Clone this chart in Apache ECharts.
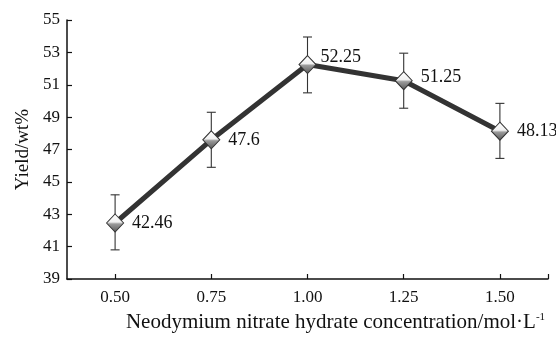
<!DOCTYPE html>
<html>
<head>
<meta charset="utf-8">
<script src="https://cdn.jsdelivr.net/npm/echarts@6/dist/echarts.min.js"></script>
<style>
  html, body { margin: 0; padding: 0; background: #fff; }
  #chart { width: 556px; height: 338px; }
</style>
</head>
<body>
<div id="chart"></div>
<script>
// concentration (mol/L) and yield (wt%)
var concentrations = [0.50, 0.75, 1.00, 1.25, 1.50]
var yields = [42.46, 47.6, 52.25, 51.25, 48.13]
// error bar ends
var errLow = [40.8, 45.9, 50.5, 49.55, 46.45]
var errHigh = [44.2, 49.3, 53.95, 52.95, 49.85]
var yTicks = [39, 41, 43, 45, 47, 49, 51, 53, 55]

var font = "'Liberation Serif', 'Times New Roman', serif"
var chartDom = echarts.init(document.getElementById("chart"))

var lineData = concentrations.map(function (c, i) {
  var item = { value: [c, yields[i]] }
  // labels nudged like in the picture
  if (i === 2) item.label = { offset: [-4, -7] }
  if (i === 3) item.label = { offset: [0, -3] }
  return item
})
var errData = concentrations.map(function (c, i) { return [c, errLow[i], errHigh[i]] })

var option = {
  animation: false,
  grid: { left: 67, right: 8, top: 20, bottom: 50 },
  xAxis: {
    type: "value",
    min: 0.375,
    max: 1.625,
    name: "{n|Neodymium nitrate hydrate concentration/mol·L}{s|-1}",
    nameLocation: "middle",
    nameGap: 33,
    nameTextStyle: {
      padding: [0, 0, 0, 56],
      rich: {
        n: { fontFamily: font, fontSize: 21, color: "#111" },
        s: { fontFamily: font, fontSize: 11, color: "#111", verticalAlign: "top", padding: [0, 0, 10, 0] }
      }
    },
    splitLine: { show: false },
    axisLine: { lineStyle: { color: "#111", width: 1.5 } },
    axisTick: { inside: true, length: 5, lineStyle: { color: "#111", width: 1.2 },
      customValues: concentrations.concat([1.625]) },
    axisLabel: { fontFamily: font, fontSize: 17, color: "#111", margin: 10,
      customValues: concentrations,
      formatter: function (v) { return v.toFixed(2) } }
  },
  yAxis: {
    type: "value",
    min: 39,
    max: 55,
    interval: 2,
    name: "Yield/wt%",
    nameLocation: "middle",
    nameGap: 34,
    nameTextStyle: { fontFamily: font, fontSize: 19, color: "#111" },
    splitLine: { show: false },
    axisLine: { show: true, lineStyle: { color: "#111", width: 1.5 } },
    axisTick: { show: true, inside: true, length: 5, lineStyle: { color: "#111", width: 1.2 } },
    axisLabel: { fontFamily: font, fontSize: 17, color: "#111", margin: 7,
      formatter: function (v) { return yTicks.indexOf(v) >= 0 ? v : "" } }
  },
  series: [
    {
      name: "误差",
      type: "custom",
      z: 1,
      renderItem: function (params, api) {
        var x = api.value(0)
        var lo = api.coord([x, api.value(1)])
        var hi = api.coord([x, api.value(2)])
        var w = 4.5
        var st = { stroke: "#333", lineWidth: 1.1 }
        return {
          type: "group",
          children: [
            { type: "line", shape: { x1: lo[0], y1: lo[1], x2: hi[0], y2: hi[1] }, style: st },
            { type: "line", shape: { x1: lo[0] - w, y1: lo[1], x2: lo[0] + w, y2: lo[1] }, style: st },
            { type: "line", shape: { x1: hi[0] - w, y1: hi[1], x2: hi[0] + w, y2: hi[1] }, style: st }
          ]
        }
      },
      data: errData
    },
    {
      name: "值",
      type: "line",
      z: 3,
      data: lineData,
      symbol: "diamond",
      symbolSize: [17, 18],
      lineStyle: { color: "#333", width: 5 },
      itemStyle: {
        color: new echarts.graphic.LinearGradient(0, 0, 0, 1, [
          { offset: 0, color: "#ffffff" },
          { offset: 0.45, color: "#f0f0f0" },
          { offset: 0.55, color: "#9a9a9a" },
          { offset: 1, color: "#555555" }
        ]),
        borderColor: "#333",
        borderWidth: 1
      },
      label: {
        show: true,
        position: "right",
        distance: 8,
        fontFamily: font,
        fontSize: 18,
        color: "#111",
        formatter: function (p) { return String(p.value[1]) }
      }
    }
  ]
}

chartDom.setOption(option, true)
</script>
</body>
</html>
